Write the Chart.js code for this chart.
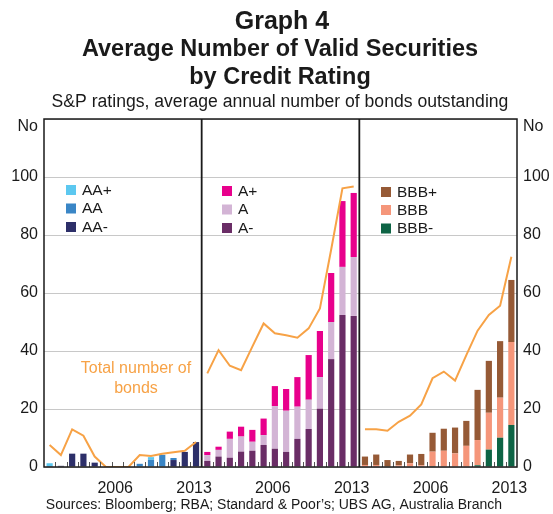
<!DOCTYPE html>
<html><head><meta charset="utf-8">
<script src="https://cdn.jsdelivr.net/npm/chart.js@4/dist/chart.umd.min.js"></script>
<style>html,body{margin:0;padding:0;background:#fff}#wrap{width:553px;height:514px;position:relative}canvas{display:block}</style>
</head><body><div id="wrap"><canvas id="c" width="553" height="514"></canvas></div>
<script>
const years = [2000,2001,2002,2003,2004,2005,2006,2007,2008,2009,2010,2011,2012,2013];
const shownYears = [2006, 2013];
const panels = ['AA', 'A', 'BBB'];

const aaPlus   = [1.0,0,0,0,0,0,0,0,0,0.9,0,0,0,0];
const aaMid    = [0,0,0,0,0,0,0,0,1.1,2.5,4.2,0.7,0,0];
const aaMinus  = [0.3,0.4,4.6,4.6,1.5,0,0,0,0,0,0,2.4,5.2,8.6];

const aPlus    = [1.1,1.1,2.5,3.4,4.1,5.7,6.9,7.5,10.2,15.4,15.9,16.9,22.7,22.1];
const aMid     = [2.0,2.3,6.5,5.2,3.1,3.4,14.7,14.2,11.1,10.1,10.9,12.8,16.6,20.3];
const aMinus   = [2.1,3.6,3.2,5.3,5.6,7.6,6.3,5.2,9.7,13.1,20.1,37.2,52.4,52.1];

const bbbPlus  = [2.9,3.6,2.4,1.5,3.0,3.9,6.5,7.6,8.9,8.6,17.3,17.9,19.5,21.4];
const bbbMid   = [0.7,0.7,0,0.6,1.3,0.6,5.0,5.6,4.7,7.3,8.7,12.7,13.8,28.6];
const bbbMinus = [0,0,0,0,0,0,0.3,0,0,0,0.6,6.0,10.1,14.5];

const totalAA  = [7.6,4.1,13.0,10.8,3.6,0,0,0,4.1,3.8,4.6,5.1,5.6,8.6];
const totalA   = [32.3,40.3,34.9,33.4,41.5,49.5,46.1,45.4,44.6,47.8,54.7,75,96.1,96.7];
const totalBBB = [13.0,13.0,12.5,15.6,17.7,21.6,30.6,32.9,29.8,38.6,47.0,52.4,55.6,72.5];

const yTicks = [0,20,40,60,80,100,120];

const FONT = "'Liberation Sans', Arial, Helvetica, sans-serif";
const N = years.length;
const labels = [].concat(years, years, years).map(String);
const blank = new Array(N).fill(null);
function inPanel(p, arr) { const out = []; for (let k = 0; k < 3; k++) out.push(...(k === p ? arr : blank)); return out; }

const legendDefs = [
  {x:66, tx:82, ys:[190,208.5,227], items:[['AA+','#5CC8F0'],['AA','#3A86C6'],['AA-','#2D2F69']]},
  {x:222, tx:238, ys:[191,209.5,228], items:[['A+','#E8008C'],['A','#D3B4D5'],['A-','#6A2D66']]},
  {x:381, tx:397, ys:[192,210,228.5], items:[['BBB+','#965A36'],['BBB','#F5967A'],['BBB-','#0E6445']]}
];

function barDs(label, p, arr, color) {
  return {type:'bar', label, data: inPanel(p, arr), backgroundColor: color, borderWidth: 0,
          barPercentage: 0.55, categoryPercentage: 1.0, order: 2, stack: 'ratings'};
}
function lineDs(p, arr) {
  return {type:'line', label:'Total number of bonds', data: inPanel(p, arr), borderColor:'#F7A246',
          borderWidth: 2, pointRadius: 0, tension: 0, spanGaps: false, fill: false, order: 0, stack: 'total'};
}

const decor = {
  id: 'decor',
  afterDatasetsDraw(chart) {
    const ctx = chart.ctx, ca = chart.chartArea, xs = chart.scales.x;
    ctx.save();
    ctx.strokeStyle = '#555'; ctx.lineWidth = 1;
    for (let i = 1; i < 3 * N; i++) {
      if (i % N === 0) continue;
      const x = Math.round((xs.getPixelForValue(i - 1) + xs.getPixelForValue(i)) / 2) + 0.5;
      ctx.beginPath(); ctx.moveTo(x, ca.bottom); ctx.lineTo(x, ca.bottom - 5); ctx.stroke();
    }
    ctx.strokeStyle = '#1a1a1a'; ctx.lineWidth = 1.8;
    for (let k = 1; k < 3; k++) {
      const x = (xs.getPixelForValue(k * N - 1) + xs.getPixelForValue(k * N)) / 2;
      ctx.beginPath(); ctx.moveTo(x, ca.top); ctx.lineTo(x, ca.bottom); ctx.stroke();
    }
    ctx.lineWidth = 1.5;
    ctx.strokeRect(ca.left, ca.top, ca.right - ca.left, ca.bottom - ca.top);
    ctx.restore();
  },
  afterDraw(chart) {
    const ctx = chart.ctx, ca = chart.chartArea;
    ctx.save();
    ctx.fillStyle = '#1a1a1a';
    ctx.textAlign = 'center'; ctx.textBaseline = 'middle';
    const cx = 280;
    ctx.font = 'bold 25px ' + FONT;
    ctx.fillText('Graph 4', 282, 22);
    ctx.font = 'bold 23.5px ' + FONT;
    ctx.fillText('Average Number of Valid Securities', cx, 50);
    ctx.fillText('by Credit Rating', cx, 78);
    ctx.font = '17.6px ' + FONT;
    ctx.fillText('S&P ratings, average annual number of bonds outstanding', cx, 102.5);
    ctx.font = '14px ' + FONT;
    ctx.fillText('Sources: Bloomberg; RBA; Standard & Poor\u2019s; UBS AG, Australia Branch', 274, 505);
    ctx.font = '16px ' + FONT;
    ctx.textAlign = 'right'; ctx.fillText('No', ca.left - 6, 127);
    ctx.textAlign = 'left'; ctx.fillText('No', ca.right + 6, 127);
    ctx.font = '15.5px ' + FONT;
    legendDefs.forEach(l => {
      l.items.forEach((it, j) => {
        ctx.fillStyle = it[1];
        ctx.fillRect(l.x, l.ys[j] - 5, 10, 10);
        ctx.fillStyle = '#1a1a1a'; ctx.textAlign = 'left';
        ctx.fillText(it[0], l.tx, l.ys[j] + 0.5);
      });
    });
    ctx.fillStyle = '#F7A246'; ctx.textAlign = 'center'; ctx.font = '16px ' + FONT;
    ctx.fillText('Total number of', 136, 369);
    ctx.fillText('bonds', 136, 389);
    ctx.restore();
  }
};

new Chart(document.getElementById('c'), {
  data: {
    labels,
    datasets: [
      barDs('AA-', 0, aaMinus, '#2D2F69'),
      barDs('AA', 0, aaMid, '#3A86C6'),
      barDs('AA+', 0, aaPlus, '#5CC8F0'),
      barDs('A-', 1, aMinus, '#6A2D66'),
      barDs('A', 1, aMid, '#D3B4D5'),
      barDs('A+', 1, aPlus, '#E8008C'),
      barDs('BBB-', 2, bbbMinus, '#0E6445'),
      barDs('BBB', 2, bbbMid, '#F5967A'),
      barDs('BBB+', 2, bbbPlus, '#965A36'),
      lineDs(0, totalAA), lineDs(1, totalA), lineDs(2, totalBBB)
    ]
  },
  options: {
    responsive: false, animation: false, devicePixelRatio: 1,
    layout: {padding: {top: 119, left: 0, right: 0, bottom: 0}},
    plugins: {legend: {display: false}, tooltip: {enabled: false}, title: {display: false}},
    scales: {
      x: {
        type: 'category', stacked: true, offset: true,
        grid: {display: false}, border: {display: false},
        ticks: {autoSkip: false, maxRotation: 0, minRotation: 0, padding: 4, labelOffset: -2, color: '#1a1a1a',
                font: {family: FONT, size: 16},
                callback: (v, i) => shownYears.includes(years[i % N]) ? String(years[i % N]) : ''},
        afterFit: s => { s.height = 47; }
      },
      y: {
        position: 'left', stacked: true, min: 0, max: 120,
        afterBuildTicks: s => { s.ticks = yTicks.map(v => ({value: v})); },
        grid: {color: '#C8C8C8', lineWidth: 1, drawTicks: false}, border: {display: false},
        ticks: {padding: 6, color: '#1a1a1a', font: {family: FONT, size: 16},
                callback: v => v === 120 ? '' : v},
        afterFit: s => { s.width = 44; }
      },
      y2: {
        position: 'right', min: 0, max: 120,
        afterBuildTicks: s => { s.ticks = yTicks.map(v => ({value: v})); },
        grid: {display: false, drawTicks: false}, border: {display: false},
        ticks: {padding: 6, color: '#1a1a1a', font: {family: FONT, size: 16},
                callback: v => v === 120 ? '' : v},
        afterFit: s => { s.width = 36; }
      }
    }
  },
  plugins: [decor]
});
</script>
</body></html>
